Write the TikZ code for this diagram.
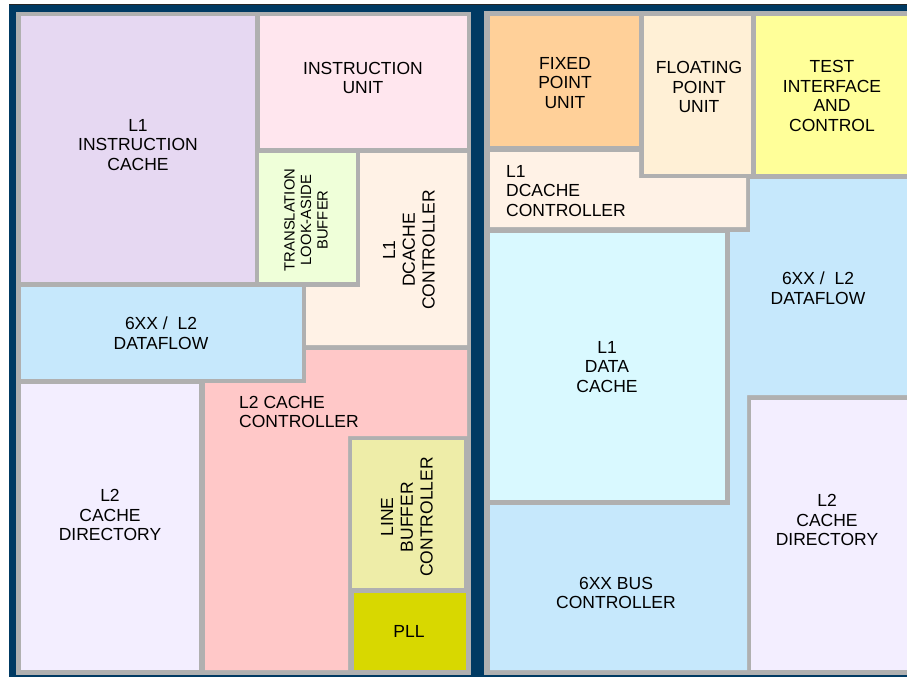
\documentclass[tikz,border=0pt]{standalone}
\usepackage{fontspec}
\setmainfont{Liberation Sans}
\definecolor{chipblue}{RGB}{0,58,99}
\definecolor{panelgray}{RGB}{176,176,176}
\definecolor{icache}{RGB}{230,216,242}
\definecolor{iunit}{RGB}{255,230,238}
\definecolor{tlbc}{RGB}{239,255,217}
\definecolor{dctrl}{RGB}{255,242,230}
\definecolor{dflow}{RGB}{198,232,252}
\definecolor{ltctrl}{RGB}{255,200,200}
\definecolor{ltdir}{RGB}{243,238,255}
\definecolor{lbcc}{RGB}{238,237,168}
\definecolor{pllc}{RGB}{216,216,0}
\definecolor{fxu}{RGB}{255,208,153}
\definecolor{fpu}{RGB}{255,240,214}
\definecolor{testc}{RGB}{255,255,153}
\definecolor{dcache}{RGB}{217,249,255}
\tikzset{
  lbl/.style={align=center, inner sep=0pt, text=black, font=\fontsize{17.5}{19.8}\selectfont},
  lbll/.style={align=left, anchor=west, inner sep=0pt, text=black, font=\fontsize{17.5}{19.8}\selectfont},
  lbls/.style={align=center, inner sep=0pt, text=black, font=\fontsize{14.8}{16.5}\selectfont},
}
\begin{document}
\begin{tikzpicture}[x=1pt,y=-1pt]
\useasboundingbox (0,0) rectangle (907,677);
% chip background
\fill[chipblue] (9,4) rectangle (907,677);
\draw[black!85, line width=1pt] (9,4.5) -- (907,4.5);
\fill[panelgray] (16,12) rectangle (471,675);
\fill[panelgray] (484,11) rectangle (907,675);
% ---------- left panel ----------
\fill[icache] (21,16) rectangle (255,282);
\fill[iunit] (260,16) rectangle (467,148);
\fill[tlbc] (259,153) rectangle (356,282);
\fill[dctrl] (360,153) -- (467,153) -- (467,345) -- (306,345) -- (306,287) -- (360,287) -- cycle;
\fill[dflow] (21,287) rectangle (302,379);
\fill[ltctrl] (306,350) -- (467,350) -- (467,436) -- (348,436) -- (348,670) -- (205,670) -- (205,383) -- (306,383) -- cycle;
\fill[ltdir] (21,384) rectangle (199,670);
\fill[lbcc] (352,440) rectangle (464,588);
\fill[pllc] (354,593) rectangle (466,670);
% ---------- right panel ----------
\fill[fxu] (490,16) rectangle (639,146);
\fill[fpu] (644,16) rectangle (751,174);
\fill[testc] (756,16) rectangle (907,174);
\fill[dctrl] (490,152) -- (639,152) -- (639,178) -- (746,178) -- (746,227) -- (490,227) -- cycle;
\fill[dflow] (750,179) -- (907,179) -- (907,395) -- (747,395) -- (747,670) -- (490,670) -- (490,505) -- (730,505) -- (730,232) -- (750,232) -- cycle;
\fill[dcache] (490,233) rectangle (725,500);
\fill[ltdir] (751,400) rectangle (907,670);
% ---------- labels left ----------
\node[lbl] (ic) at (138,145) {L1\\INSTRUCTION\\CACHE};
\node[lbl] (iu) at (363,78) {INSTRUCTION\\UNIT};
\node[lbls, rotate=90] (tlb) at (306,220) {TRANSLATION\\LOOK-ASIDE\\BUFFER};
\node[lbl, rotate=90] (dcl) at (409,250) {L1\\DCACHE\\CONTROLLER};
\node[lbl] (dfl) at (161,333) {6XX /\ \ L2\\DATAFLOW};
\node[lbll] (l2c) at (239,412) {L2 CACHE\\CONTROLLER};
\node[lbl] (l2dl) at (110,515) {L2\\CACHE\\DIRECTORY};
\node[lbl, rotate=90] (lbc) at (407,517) {LINE\\BUFFER\\CONTROLLER};
\node[lbl] (pll) at (409,631) {PLL};
% ---------- labels right ----------
\node[lbl] (fx) at (565,83) {FIXED\\POINT\\UNIT};
\node[lbl] (fp) at (699,87) {FLOATING\\POINT\\UNIT};
\node[lbl] (ti) at (832,96) {TEST\\INTERFACE\\AND\\CONTROL};
\node[lbll] (dcr) at (506,191) {L1\\DCACHE\\CONTROLLER};
\node[lbl] (dfr) at (818,288) {6XX /\ \ L2\\DATAFLOW};
\node[lbl] (dc) at (607,367) {L1\\DATA\\CACHE};
\node[lbl] (bus) at (616,593) {6XX BUS\\CONTROLLER};
\node[lbl] (l2dr) at (827,520) {L2\\CACHE\\DIRECTORY};
\end{tikzpicture}
\end{document}
